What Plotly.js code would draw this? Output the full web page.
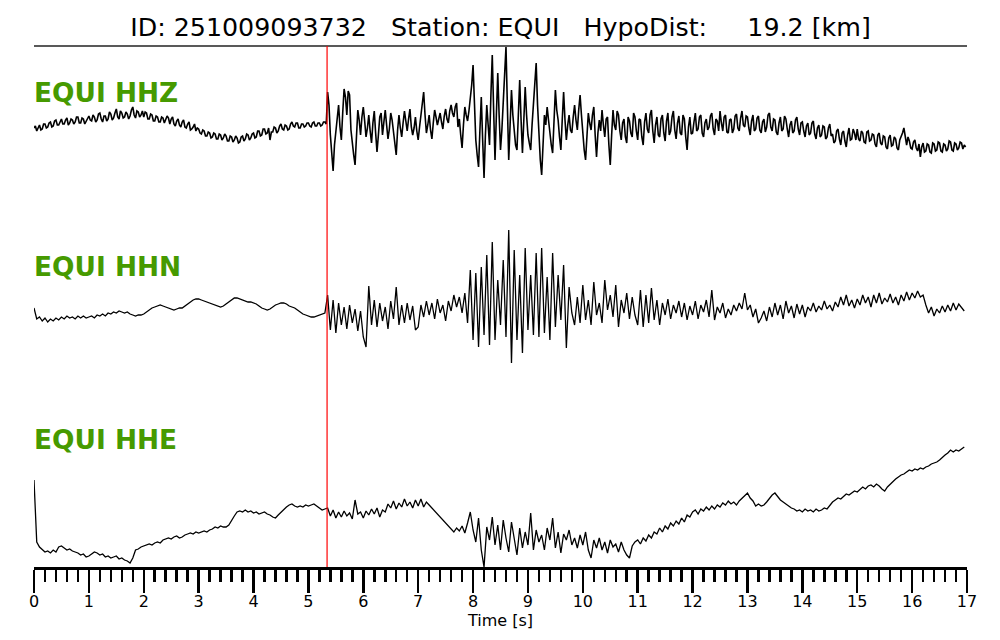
<!DOCTYPE html>
<html>
<head>
<meta charset="utf-8">
<script src="https://cdn.plot.ly/plotly-3.0.1.min.js"></script>
<style>html,body{margin:0;padding:0;background:#fff;}#chart{width:1000px;height:640px;}</style>
</head>
<body>
<div id="chart"></div>
<script>
// ---- data (amplitudes, arbitrary units; sample intervals in seconds) ----
const sampleIntervalZ = 0.025;
const sampleIntervalNE = 0.05;
const pickTime = 5.34;
const titleText = "ID: 251009093732\u00A0\u00A0\u00A0Station: EQUI\u00A0\u00A0\u00A0HypoDist:\u00A0\u00A0\u00A0\u00A0\u00A019.2 [km]";
const channelLabels = ["EQUI HHZ", "EQUI HHN", "EQUI HHE"];
const timeLabel = "Time [s]";

const traceZ = [
  -3,-1,-6,-2,0,-5,-4,1,1,-3,-2,2,3,-2,-1,4,5,0,0,3,6,1,1,5,7,0,2,6,5,1,3,8,8,2,2,7,6,1,4,7,
  9,5,4,10,8,3,5,11,12,6,3,9,9,4,6,13,11,5,7,12,16,8,6,14,12,7,8,13,11,6,9,15,18,10,7,14,13,8,10,14,
  8,13,12,6,6,11,10,4,4,9,8,3,3,8,7,2,5,9,7,1,6,8,1,-1,4,6,0,-2,3,5,-2,-3,1,3,-5,-4,-2,1,-6,-3,
  -4,-8,-9,-5,-6,-11,-11,-7,-8,-13,-12,-8,-9,-14,-14,-9,-10,-15,-13,-9,-11,-16,-16,-11,-12,-17,-15,-11,-13,-18,-17,-12,-11,-16,-14,-9,-10,-15,-13,-9,
  -8,-13,-12,-6,-6,-11,-10,-4,-4,-9,-8,-3,-15,-7,-7,-2,-3,-8,-6,-1,1,-4,-5,0,-1,-5,-4,1,3,-1,-2,2,2,-3,-3,1,1,-2,-1,2,
  2,-1,-2,2,3,-1,-1,2,2,-1,0,3,3,1,33,20,-10,-30,-46,-20,-5,8,20,-2,-15,12,36,28,10,34,30,-5,-20,-30,-40,-10,15,5,-10,8,
  18,4,-12,-3,10,-6,-18,2,14,-8,-27,-10,8,12,-10,3,15,0,-14,-4,12,5,-8,-20,-30,-5,10,-3,-12,2,14,4,-6,6,16,-2,-10,-3,8,-6,
  -15,-2,12,24,33,10,-8,0,10,-5,-14,2,15,8,0,6,12,3,-4,9,16,6,2,14,20,12,8,18,22,-2,6,-10,-23,0,18,10,4,14,26,40,
  60,20,-15,-30,-42,-5,28,-15,-53,-10,20,0,-20,30,70,15,-35,10,52,10,-25,-5,20,50,78,20,-35,0,35,10,-10,-20,-25,10,45,5,-28,5,38,10,
  -10,-18,-25,0,20,45,62,20,-15,-35,-50,-15,10,0,18,5,-10,-20,-28,5,35,15,5,-12,-25,5,33,5,-15,0,10,-5,-8,8,20,5,-5,15,30,10,
  -10,-25,-35,-5,12,2,-5,10,18,-10,-32,-8,5,-6,15,0,-12,6,8,-20,-40,-10,15,0,-5,14,10,-6,-15,2,6,-12,-18,8,4,-8,-12,12,8,-6,
  -15,6,5,-12,-20,3,12,-4,-8,10,15,-6,-18,0,8,-10,-12,6,10,-8,-16,4,12,-10,-6,8,14,-5,-14,2,9,-8,-10,10,6,-12,-25,-2,8,-9,
  -8,3,12,-6,-4,8,10,-8,-12,2,6,-5,-2,9,12,-4,-10,6,4,-6,14,2,-6,8,10,-7,-8,5,6,-8,-4,9,11,-3,-6,7,14,0,-2,9,
  8,-3,-10,4,10,-6,-4,7,9,-5,-8,3,6,-7,-2,10,12,-2,-6,6,5,-7,-10,2,8,-6,-4,9,6,-4,-12,0,4,-8,-6,5,8,-4,-10,2,
  3,-6,-12,-1,2,-10,-8,2,4,-9,-14,-3,0,-12,-10,-1,-2,-14,-12,-3,1,-11,-9,-18,-16,-6,-4,-14,-20,-8,-6,-16,-22,-10,-3,-15,-14,-4,-8,-15,
  -4,-14,-16,-6,-8,-17,-18,-7,-6,-16,-15,-9,-10,-19,-22,-10,-8,-18,-20,-11,-12,-22,-24,-13,-10,-21,-20,-12,-14,-23,-25,-15,-12,-8,-3,-14,-20,-12,-16,-23,
  -24,-17,-15,-23,-26,-19,-32,-22,-18,-27,-26,-19,-20,-27,-28,-18,-19,-26,-25,-17,-18,-26,-27,-19,-20,-26,-24,-16,-17,-25,-26,-18,-19,-25,-23,-17,-18,-24,-20,-22
];

const traceN = [
  7,-4,-2,-6,-3,-7,-4,-6,-3,-5,-2,-4,-1,-3,-2,-4,-1,-3,-1,-3,
  -2,-1,-3,0,-1,1,-1,2,1,3,2,4,3,2,3,1,0,-1,0,0,
  1,3,5,7,8,9,10,9,8,7,6,5,6,7,7,9,11,13,15,16,
  16,15,14,13,12,11,10,9,8,9,11,13,15,17,17,16,15,14,13,13,
  12,11,9,7,6,5,6,8,10,11,12,12,11,9,8,7,5,3,1,0,
  -1,-2,-2,-1,0,1,2,20,-15,15,-18,12,-10,8,-14,10,-8,6,-16,4,
  -22,-32,29,-10,15,-12,12,-6,8,-14,14,-4,28,-10,10,-8,12,-5,9,-15,
  -12,10,-2,14,0,12,-4,16,2,10,-6,14,4,20,8,18,2,22,-8,45,
  -25,42,-32,48,-20,60,-30,73,-25,35,-10,55,-22,85,-48,65,-25,40,-38,67,
  -15,40,-20,62,-22,67,-18,38,-25,62,-12,40,-5,50,-33,28,2,-10,18,-8,
  30,-5,15,-10,33,0,12,-8,35,5,20,-2,30,-12,15,2,22,-4,18,0,
  -10,25,-12,20,-8,27,-5,15,-10,12,0,16,-4,10,2,14,-2,12,-5,9,
  0,14,-4,10,3,15,-2,25,-5,8,2,12,-3,6,0,10,4,12,6,22,
  5,10,-2,6,-8,-3,4,-6,8,-2,12,0,10,-4,14,2,9,-3,11,1,
  10,-2,8,4,12,3,9,5,14,6,10,4,13,8,18,10,20,9,15,7,
  16,10,20,12,18,8,20,12,22,11,17,13,21,12,18,10,20,14,23,15,
  22,17,24,18,20,10,2,8,-1,6,2,9,3,10,4,12,5,11,8,4
];

const traceE = [
  40,-22,-27,-30,-32,-31,-33,-30,-32,-27,-26,-28,-30,-29,-31,-32,-33,-35,-34,-37,
  -36,-34,-32,-33,-35,-34,-37,-36,-38,-37,-36,-39,-38,-40,-41,-43,-38,-30,-29,-27,
  -26,-25,-24,-25,-23,-22,-23,-20,-19,-18,-19,-17,-16,-18,-17,-15,-14,-13,-14,-12,
  -13,-12,-11,-12,-10,-9,-7,-8,-6,-7,-7,-5,0,4,8,9,8,10,8,9,
  7,8,6,7,8,6,5,3,2,5,8,11,13,15,16,14,13,14,13,15,
  14,15,16,14,12,10,11,12,4,10,2,8,3,9,4,7,1,20,6,8,
  2,9,5,11,6,12,3,10,8,16,12,19,11,17,13,21,14,18,12,20,
  14,21,13,18,15,12,8,6,2,-1,-4,-6,-9,-12,-8,-11,-6,-13,-3,8,
  -10,-22,2,-30,-47,-7,-20,3,-25,-5,-30,0,-18,-32,-2,-20,-35,-8,-28,-12,
  -25,7,-30,-10,-22,-15,-30,-8,-20,2,-28,-12,-33,-14,-20,-10,-25,-18,-28,-15,
  -25,-12,-30,-38,-20,-28,-18,-30,-22,-33,-20,-27,-24,-32,-22,-30,-35,-38,-26,-22,
  -20,-24,-18,-21,-15,-18,-12,-14,-8,-12,-6,-9,-3,-6,-1,-4,2,-2,5,3,
  8,10,6,11,9,13,10,14,11,15,13,17,15,19,16,18,15,19,22,25,
  27,22,19,14,16,14,15,18,22,25,27,23,20,18,16,14,12,11,9,10,
  8,11,9,10,8,11,9,10,12,11,15,18,20,22,21,24,26,25,27,29,
  28,31,33,31,34,35,33,36,34,31,29,33,36,39,41,43,45,46,48,50,
  49,51,50,52,51,53,54,56,57,58,60,63,65,67,70,68,70,69,71,73
];

// ---- chart ----
const data = [
  {type: "scatter", mode: "lines", y: traceZ, x0: 0, dx: sampleIntervalZ, yaxis: "y3", line: {color: "black", width: 1.6}, hoverinfo: "skip", showlegend: false},
  {type: "scatter", mode: "lines", y: traceN, x0: 0, dx: sampleIntervalNE, yaxis: "y2", line: {color: "black", width: 1.3}, hoverinfo: "skip", showlegend: false},
  {type: "scatter", mode: "lines", y: traceE, x0: 0, dx: sampleIntervalNE, yaxis: "y", line: {color: "black", width: 1.3}, hoverinfo: "skip", showlegend: false}
];

const font = "DejaVu Sans, sans-serif";
const green = "#469a00";
const hiddenY = {visible: false, showgrid: false, zeroline: false, fixedrange: true};
const labelFont = {family: font, size: 26.4, color: green, weight: "bold"};

const layout = {
  width: 1000, height: 640,
  paper_bgcolor: "white", plot_bgcolor: "white",
  margin: {l: 34, r: 33, t: 46, b: 73, pad: 0},
  showlegend: false,
  font: {family: font, color: "black"},
  title: {
    text: titleText,
    font: {family: font, size: 25.3, color: "black"},
    x: 0.5, xref: "paper", xanchor: "center",
    y: 0.958, yref: "container", yanchor: "middle"
  },
  xaxis: {
    range: [0, 17],
    tickmode: "linear", tick0: 0, dtick: 1,
    ticks: "outside", ticklen: 23, tickwidth: 2.5, tickcolor: "black",
    ticklabelstandoff: -5,
    showline: true, linecolor: "black", linewidth: 2.5,
    showgrid: false, zeroline: false,
    tickfont: {family: font, size: 16, color: "black"},
    minor: {dtick: 0.2, ticks: "outside", ticklen: 12, tickwidth: 2.5, tickcolor: "black", showgrid: false},
    title: {text: timeLabel, font: {family: font, size: 16, color: "black"}, standoff: 0}
  },
  yaxis: Object.assign({range: [-47, 474]}, hiddenY),
  yaxis2: Object.assign({range: [-252, 269], overlaying: "y"}, hiddenY),
  yaxis3: Object.assign({range: [-442, 79], overlaying: "y"}, hiddenY),
  shapes: [
    {type: "line", xref: "paper", yref: "paper", x0: 0, x1: 1, y0: 1, y1: 1, line: {color: "#222", width: 1.5}},
    {type: "line", xref: "x", yref: "paper", x0: pickTime, x1: pickTime, y0: 0, y1: 1, line: {color: "red", width: 1.2}}
  ],
  annotations: [
    {text: channelLabels[0], xref: "paper", yref: "paper", x: 0, y: 0.9107, xshift: -2, xanchor: "left", yanchor: "middle", showarrow: false, font: labelFont},
    {text: channelLabels[1], xref: "paper", yref: "paper", x: 0, y: 0.5777, xshift: -2, xanchor: "left", yanchor: "middle", showarrow: false, font: labelFont},
    {text: channelLabels[2], xref: "paper", yref: "paper", x: 0, y: 0.2447, xshift: -2, xanchor: "left", yanchor: "middle", showarrow: false, font: labelFont}
  ]
};

Plotly.newPlot("chart", data, layout, {staticPlot: true, displayModeBar: false});
</script>
</body>
</html>
